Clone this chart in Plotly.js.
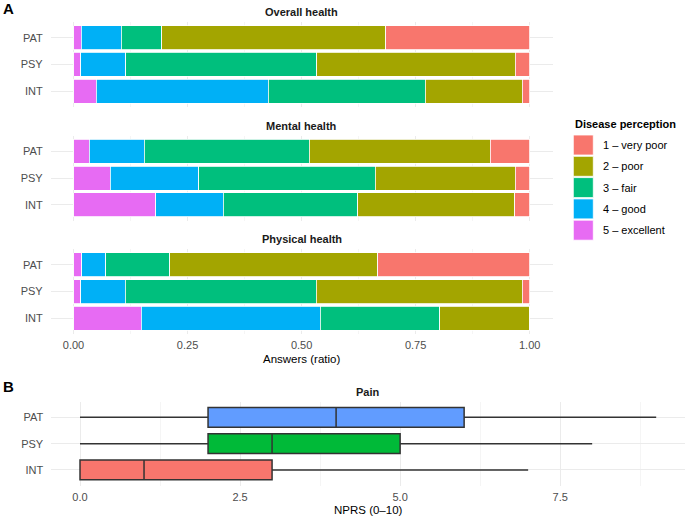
<!DOCTYPE html>
<html>
<head>
<meta charset="utf-8">
<script src="https://cdn.plot.ly/plotly-3.0.1.min.js"></script>
<style>html,body{margin:0;padding:0;background:#fff;}#chart{width:685px;height:516px;}</style>
</head>
<body>
<div id="chart"></div>
<script>
// ---------- data ----------
const groups = ['PAT', 'PSY', 'INT'];
const levels = ['1 – very poor', '2 – poor', '3 – fair', '4 – good', '5 – excellent'];
const levelColors = ['#F8766D', '#A3A500', '#00BF7D', '#00B0F6', '#E76BF3'];
const facets = ['Overall health', 'Mental health', 'Physical health'];

// ratios per level, in order of groups (PAT, PSY, INT)
const overallVeryPoor = [0.316, 0.032, 0.016];
const overallPoor     = [0.491, 0.435, 0.213];
const overallFair     = [0.088, 0.419, 0.344];
const overallGood     = [0.088, 0.098, 0.377];
const overallExcel    = [0.017, 0.016, 0.050];

const mentalVeryPoor  = [0.086, 0.032, 0.033];
const mentalPoor      = [0.397, 0.306, 0.344];
const mentalFair      = [0.362, 0.387, 0.295];
const mentalGood      = [0.121, 0.194, 0.148];
const mentalExcel     = [0.034, 0.081, 0.180];

const physVeryPoor    = [0.333, 0.016, 0.000];
const physPoor        = [0.456, 0.452, 0.197];
const physFair        = [0.140, 0.419, 0.262];
const physGood        = [0.053, 0.097, 0.393];
const physExcel       = [0.018, 0.016, 0.148];

// pain (NPRS 0-10) box statistics, order of groups
const painMin    = [0, 0, 0];
const painQ1     = [2, 2, 0];
const painMedian = [4, 3, 1];
const painQ3     = [6, 5, 3];
const painMax    = [9, 8, 7];
const painColors = ['#619CFF', '#00BA38', '#F8766D'];

const xTicksA = [0, 0.25, 0.5, 0.75, 1];
const xTicksB = [0, 2.5, 5, 7.5];

// ---------- layout helpers ----------
const W = 685, H = 516;
const fx = p => p / W;
const fy = p => 1 - p / H;
const FONT = 'Liberation Sans, Arial, Helvetica, sans-serif';
const TICK = {family: FONT, size: 11, color: '#4D4D4D'};
const GRID = '#EBEBEB';

const facetData = [
  [overallVeryPoor, overallPoor, overallFair, overallGood, overallExcel],
  [mentalVeryPoor, mentalPoor, mentalFair, mentalGood, mentalExcel],
  [physVeryPoor, physPoor, physFair, physGood, physExcel]
];

const panelA = {left: 50.7, right: 552.5};
const panelTops = [21.8, 135.5, 249];
const panelH = 85.2;
const panelB = {left: 51.2, right: 685, top: 401.5, bottom: 485.8};

const traces = [];
facetData.forEach((fd, fi) => {
  const ax = fi === 0 ? '' : String(fi + 1);
  // stack from excellent (left) to very poor (right)
  for (let li = levels.length - 1; li >= 0; li--) {
    traces.push({
      type: 'bar', orientation: 'h',
      x: fd[li], y: groups,
      name: levels[li],
      marker: {color: levelColors[li], line: {color: '#FFFFFF', width: 0.8}},
      xaxis: 'x' + ax, yaxis: 'y' + ax,
      showlegend: false,
      hovertemplate: facets[fi] + ' %{y}: %{x:.3f}<extra>' + levels[li] + '</extra>'
    });
  }
});

groups.forEach((g, i) => {
  traces.push({
    type: 'box', orientation: 'h',
    y: [g], q1: [painQ1[i]], median: [painMedian[i]], q3: [painQ3[i]],
    lowerfence: [painMin[i]], upperfence: [painMax[i]],
    fillcolor: painColors[i],
    line: {color: '#333333', width: 1.5},
    whiskerwidth: 0, width: 0.75,
    xaxis: 'x4', yaxis: 'y4', showlegend: false, name: g
  });
});

const layout = {
  width: W, height: H,
  margin: {l: 0, r: 0, t: 0, b: 0},
  paper_bgcolor: '#FFFFFF', plot_bgcolor: '#FFFFFF',
  font: {family: FONT, size: 11, color: '#000000'},
  barmode: 'stack', bargap: 0.1,
  showlegend: false,
  annotations: [], shapes: []
};

facetData.forEach((fd, fi) => {
  const ax = fi === 0 ? '' : String(fi + 1);
  const top = panelTops[fi], bot = top + panelH;
  layout['xaxis' + ax] = {
    domain: [fx(panelA.left), fx(panelA.right)],
    anchor: 'y' + ax,
    range: [-0.05, 1.05],
    tickmode: 'array', tickvals: xTicksA, ticktext: xTicksA.map(v => v.toFixed(2)),
    showticklabels: fi === 2, tickfont: TICK, ticks: '', ticklabelstandoff: 3,
    showgrid: true, gridcolor: GRID, gridwidth: 1,
    minor: {tickmode: 'array', tickvals: [0.125, 0.375, 0.625, 0.875], showgrid: true, gridcolor: GRID, gridwidth: 0.5},
    zeroline: false, showline: false, fixedrange: true
  };
  layout['yaxis' + ax] = {
    domain: [fy(bot), fy(top)],
    anchor: 'x' + ax,
    type: 'category', categoryorder: 'array', categoryarray: groups.slice().reverse(),
    range: [-0.6, 2.6],
    tickfont: TICK, ticks: '', ticklabelstandoff: 7,
    showgrid: true, gridcolor: GRID, gridwidth: 1,
    zeroline: false, showline: false, fixedrange: true
  };
  layout.annotations.push({
    text: '<b>' + facets[fi] + '</b>', xref: 'paper', yref: 'paper',
    x: fx((panelA.left + panelA.right) / 2), y: fy(top - 9.8),
    xanchor: 'center', yanchor: 'middle', showarrow: false,
    font: {family: FONT, size: 11, color: '#1A1A1A'}
  });
});

layout.xaxis4 = {
  domain: [fx(panelB.left), fx(panelB.right)], anchor: 'y4',
  range: [-0.45, 9.45],
  tickmode: 'array', tickvals: xTicksB, ticktext: xTicksB.map(v => v.toFixed(1)),
  tickfont: TICK, ticks: '', ticklabelstandoff: 3,
  showgrid: true, gridcolor: GRID, gridwidth: 1,
  minor: {tickmode: 'array', tickvals: [1.25, 3.75, 6.25, 8.75], showgrid: true, gridcolor: GRID, gridwidth: 0.5},
  zeroline: false, showline: false, fixedrange: true
};
layout.yaxis4 = {
  domain: [fy(panelB.bottom), fy(panelB.top)], anchor: 'x4',
  type: 'category', categoryorder: 'array', categoryarray: groups.slice().reverse(),
  range: [-0.6, 2.6],
  tickfont: TICK, ticks: '', ticklabelstandoff: 7,
  showgrid: true, gridcolor: GRID, gridwidth: 1,
  zeroline: false, showline: false, fixedrange: true
};

const addText = (text, xp, yp, opts) => layout.annotations.push(Object.assign({
  text: text, xref: 'paper', yref: 'paper', x: fx(xp), y: fy(yp),
  xanchor: 'center', yanchor: 'middle', showarrow: false,
  font: {family: FONT, size: 11.5, color: '#000000'}
}, opts || {}));

addText('<b>A</b>', 0.5, 8.5, {xanchor: 'left', font: {family: FONT, size: 15, color: '#000000'}});
addText('<b>B</b>', 0.5, 386, {xanchor: 'left', font: {family: FONT, size: 15, color: '#000000'}});
addText('<b>Pain</b>', (panelB.left + panelB.right) / 2, 392, {font: {family: FONT, size: 11, color: '#1A1A1A'}});
addText('Answers (ratio)', (panelA.left + panelA.right) / 2, 359);
addText('NPRS (0–10)', (panelB.left + panelB.right) / 2, 509.5);

// legend (drawn manually to match key size)
const legX = 573.3, legKeyTop = 135, legStep = 21.3, keySize = 20;
addText('<b>Disease perception</b>', legX, 124.3, {xanchor: 'left', font: {family: FONT, size: 11, color: '#000000'}});
levels.forEach((lv, i) => {
  const t = legKeyTop + i * legStep;
  layout.shapes.push({
    type: 'rect', xref: 'paper', yref: 'paper',
    x0: fx(legX), x1: fx(legX + keySize), y0: fy(t + keySize), y1: fy(t),
    fillcolor: levelColors[i], line: {color: '#FFFFFF', width: 0.8}
  });
  addText(lv, legX + keySize + 7.5, t + keySize / 2, {xanchor: 'left', font: {family: FONT, size: 11, color: '#000000'}});
});

Plotly.newPlot('chart', traces, layout, {displayModeBar: false, responsive: false, staticPlot: true});
</script>
</body>
</html>
